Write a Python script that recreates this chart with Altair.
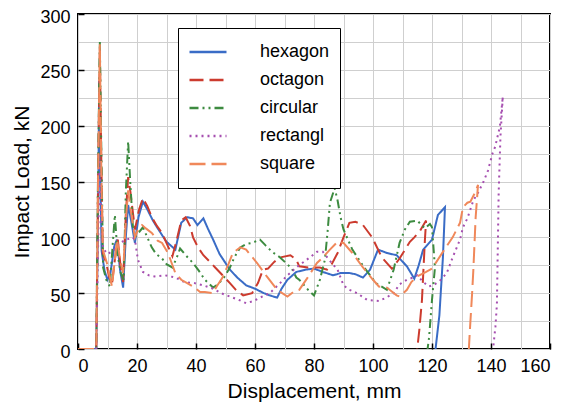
import altair as alt
import pandas as pd

names = ["hexagon", "octagon", "circular", "rectangl", "square"]
colors = ["#3a6cc6", "#cc3b2e", "#3d8b40", "#a64fb0", "#f0885a"]
dashes = [[1, 0], [14, 6], [9, 4, 2, 4, 2, 4], [2, 4], [16, 6]]

hex_d = [0, 6.2, 6.8, 7.2, 7.6, 8.0, 9, 10, 11, 12.3, 13.2, 14.3, 15.3, 16.2, 17, 18, 19.3, 20.5, 22, 23.5, 25.4, 26.8, 28.5, 30, 33, 35, 37, 39, 40.5, 42.5, 44, 45.8, 48, 51.5, 54, 57, 60, 63, 65, 67.5, 69, 71, 74, 77, 80, 83, 86.5, 89, 92, 94, 96.6, 99, 101.7, 104.7, 108, 111.5, 114, 115.5, 117, 120, 122, 124.4, 123.7, 122.5, 121.2]
hex_L = [0, 0, 120, 240, 150, 88, 70, 62, 68, 92, 98, 70, 55, 100, 129, 115, 95, 118, 132, 125, 115, 109, 102, 96, 89, 113, 118, 117, 111, 117, 108, 98, 85, 71, 64, 57, 54, 50, 48, 46, 54, 62, 69, 71, 72, 69, 66, 68, 68, 67, 64, 71, 89, 86, 84, 74, 63, 75, 89, 98, 120, 127, 82, 30, 0]

oct_d = [0, 6.2, 6.8, 7.4, 7.9, 8.4, 9.5, 10.5, 11.5, 12.5, 13.5, 14.4, 15.3, 16.2, 17, 17.8, 19.3, 20.7, 22, 23.5, 25, 26.8, 28.5, 31, 32, 33.5, 35, 36.5, 38, 39, 40.7, 42.5, 44.7, 46.5, 49, 51.5, 53.5, 56, 59, 61, 62.7, 64.4, 66.5, 68.5, 72, 74, 75, 78, 82, 84.4, 86, 88, 90, 92, 94, 96.6, 99.7, 103, 106.4, 109, 112.5, 114, 116, 118, 117.6, 116.6, 115.7, 115]
oct_L = [0, 0, 150, 270, 170, 85, 78, 65, 58, 80, 98, 75, 60, 120, 154, 140, 107, 125, 135, 128, 118, 110, 104, 89, 83, 98, 115, 118, 110, 100, 91, 84, 78, 73, 66, 59, 53, 48, 50, 59, 71, 72, 78, 82, 84, 80, 74, 73, 73, 71, 76, 86, 100, 113, 114, 111, 100, 82, 72, 81, 96, 100, 106, 115, 98, 44, 17, 0]

cir_d = [0, 6.2, 6.8, 7.4, 7.9, 8.5, 9.6, 10.8, 11.8, 12.5, 13.4, 14.5, 15.5, 16.2, 17, 17.7, 18.6, 19.3, 20.5, 22, 23.5, 25, 26.5, 28.5, 30, 32, 33.5, 34.6, 36.5, 39, 41, 43, 45.8, 47.5, 49.5, 51.5, 53, 55, 57, 59, 61.7, 63.5, 65.8, 68.5, 70.5, 72.5, 74, 75, 78, 80, 82, 83.7, 84.6, 85.4, 87, 88, 89, 90, 93, 97, 101, 104.7, 107, 109, 110.8, 112.5, 115, 117.6, 119.3, 120, 121, 120, 119, 118.5]
cir_L = [0, 0, 160, 275, 180, 73, 62, 56, 95, 120, 85, 68, 62, 140, 186, 150, 110, 100, 104, 109, 100, 91, 85, 81, 76, 73, 82, 90, 84, 77, 70, 62, 55, 58, 64, 73, 82, 91, 94, 95, 98, 93, 87, 82, 77, 72, 64, 62, 53, 48, 62, 80, 105, 131, 144, 133, 118, 107, 89, 73, 59, 53, 71, 95, 107, 114, 115, 108, 112, 109, 73, 44, 10, 0]

rec_d = [0, 6.2, 6.8, 7.3, 7.8, 8.5, 10, 12, 14, 16.6, 18.5, 19.3, 20.3, 22, 24, 26, 29.5, 33, 36, 39.5, 42.5, 45.8, 48.5, 51.5, 54.5, 57, 59.5, 61.7, 65, 68.5, 71, 74, 76, 78.6, 81, 83, 85.4, 88, 90, 92, 94.6, 98, 102, 104.5, 107, 109, 111.5, 113.6, 115, 117, 119, 121, 123, 125, 127, 129.5, 130.5, 132, 134, 135.6, 137.5, 139, 140.5, 141.4, 143, 144, 143.2, 142.6, 142.3, 142, 141.5, 140.7]
rec_L = [0, 0, 90, 170, 120, 90, 85, 88, 95, 98, 100, 98, 80, 69, 66, 65, 66, 64, 60, 59, 57, 54, 50, 47, 44, 41, 43, 46, 50, 59, 66, 73, 77, 82, 87, 87, 79, 71, 57, 53, 50, 44, 43, 46, 50, 58, 62, 64, 66, 60, 56, 58, 62, 68, 82, 98, 109, 117, 133, 140, 150, 160, 175, 181, 199, 226, 190, 140, 90, 40, 20, 0]

squ_d = [0, 6.2, 6.8, 7.4, 7.9, 8.4, 9.8, 11.5, 12.5, 13.2, 14.3, 15.3, 16.2, 17, 17.8, 19.3, 20.5, 21.7, 23, 25, 27, 28.5, 30.5, 33, 35, 37, 39, 41.4, 43, 45.8, 47, 49, 51, 52.5, 55, 57, 60.7, 64, 67.5, 71, 73, 75, 77.6, 81, 83, 85.4, 88, 90, 93, 96.6, 100, 102, 104.7, 108, 109, 111.5, 113, 115, 118, 120, 121.5, 123.7, 127, 129.5, 130.5, 132, 133, 134.6, 135.6, 134.8, 134, 133.6, 132.8, 132.5]
squ_L = [0, 0, 150, 273, 160, 89, 77, 56, 80, 98, 80, 68, 115, 142, 125, 100, 108, 111, 108, 104, 97, 95, 86, 68, 62, 59, 56, 51, 51, 50, 56, 64, 76, 86, 91, 89, 77, 65, 53, 47, 51, 53, 63, 77, 82, 89, 96, 95, 86, 73, 62, 56, 55, 48, 47, 53, 60, 65, 69, 72, 78, 87, 100, 113, 127, 131, 132, 140, 147, 118, 70, 50, 15, 0]

series = [(hex_d, hex_L), (oct_d, oct_L), (cir_d, cir_L), (rec_d, rec_L), (squ_d, squ_L)]
rows = []
for name, (ds, ls) in zip(names, series):
    for i, (d, l) in enumerate(zip(ds, ls)):
        rows.append({"series": name, "i": i, "d": d, "L": l})
df = pd.DataFrame(rows)

FONT = "Liberation Sans"

leg = alt.Legend(
    title=None, orient="none", legendX=100, legendY=14,
    symbolType="stroke", symbolSize=1369, symbolStrokeWidth=2.5,
    clipHeight=28, rowPadding=0, labelOffset=32,
    labelFont=FONT, labelFontSize=18, labelColor="black",
    padding=10, strokeColor="black", fillColor="white",
)

x_axis = alt.Axis(
    values=list(range(0, 161, 10)), grid=True, gridColor="#cfcfcf", gridWidth=1,
    domain=False, offset=-6, tickSize=6, tickColor="black", tickWidth=1.5,
    tickOpacity={"condition": {"test": "datum.value % 20 === 0", "value": 1}, "value": 0},
    labelExpr="datum.value % 20 === 0 ? datum.label : ''",
    labelFont=FONT, labelFontSize=18, labelColor="black", labelPadding=8,
    title="Displacement, mm", titleFont=FONT, titleFontSize=21,
    titleFontWeight="normal", titleColor="black", titlePadding=5,
)
y_axis = alt.Axis(
    values=list(range(0, 301, 25)), grid=True, gridColor="#cfcfcf", gridWidth=1,
    domain=False, offset=-6, tickSize=6, tickColor="black", tickWidth=1.5,
    tickOpacity={"condition": {"test": "datum.value % 50 === 0", "value": 1}, "value": 0},
    labelExpr="datum.value % 50 === 0 ? datum.label : ''",
    labelFont=FONT, labelFontSize=18, labelColor="black", labelPadding=8, labelOffset=3,
    title="Impact Load, kN", titleFont=FONT, titleFontSize=21,
    titleFontWeight="normal", titleColor="black", titlePadding=7,
)

chart = alt.Chart(df).mark_line(strokeWidth=2, clip=True).encode(
    x=alt.X("d:Q", scale=alt.Scale(domain=[0, 160], nice=False, zero=False), axis=x_axis),
    y=alt.Y("L:Q", scale=alt.Scale(domain=[0, 300], nice=False), axis=y_axis),
    color=alt.Color("series:N", scale=alt.Scale(domain=names, range=colors), sort=names, legend=leg),
    strokeDash=alt.StrokeDash("series:N", scale=alt.Scale(domain=names, range=dashes), sort=names, legend=leg),
    order=alt.Order("i:Q"),
).properties(
    width=472, height=335,
    autosize=alt.AutoSizeParams(type="none"),
    padding={"left": 70, "top": 6, "right": 6, "bottom": 60},
).configure_view(stroke="black", strokeWidth=2)

chart.save("out.html", embed_options={"renderer": "svg", "actions": False})
